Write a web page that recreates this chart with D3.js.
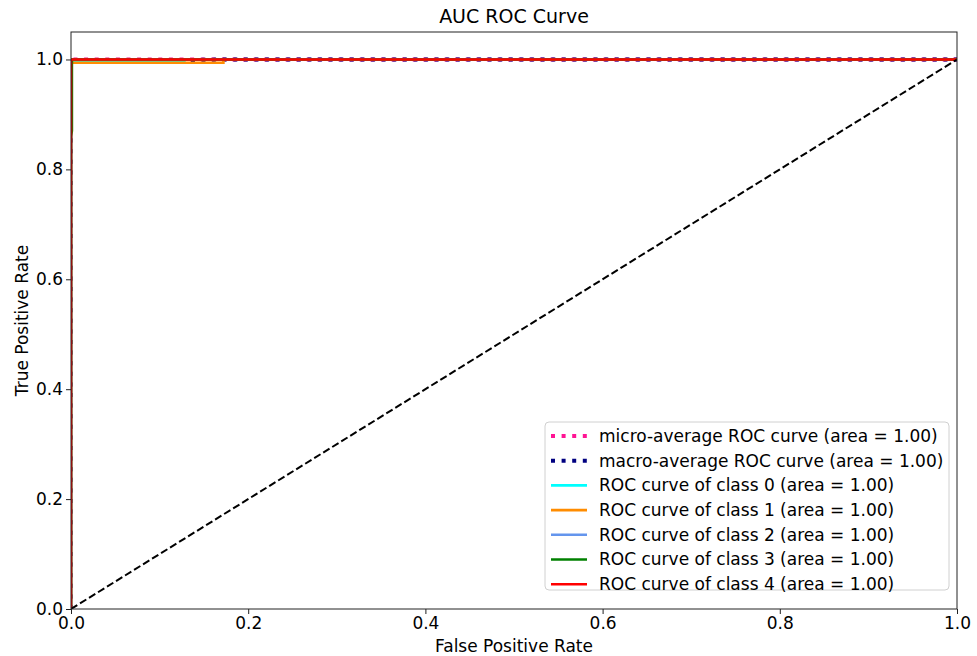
<!DOCTYPE html>
<html>
<head>
<meta charset="utf-8">
<script src="https://cdn.jsdelivr.net/npm/d3@7"></script>
<style>
  body { margin: 0; background: #fff; }
  text { font-family: "DejaVu Sans", sans-serif; fill: #000; }
</style>
</head>
<body>
<div id="chart"></div>
<script>
// tick labels
var xTicks = [0, 0.2, 0.4, 0.6, 0.8, 1.0];
var yTicks = [0, 0.2, 0.4, 0.6, 0.8, 1.0];

// legend names + areas
var curveNames = ["micro-average ROC curve", "macro-average ROC curve",
                  "ROC curve of class 0", "ROC curve of class 1", "ROC curve of class 2",
                  "ROC curve of class 3", "ROC curve of class 4"];
var curveAreas = [1.00, 1.00, 1.00, 1.00, 1.00, 1.00, 1.00];

// fpr / tpr of each curve
var microFpr = [0, 0, 0.001, 1];
var microTpr = [0, 0.99, 1, 1];
var macroFpr = [0, 0, 0.128, 0.172, 1];
var macroTpr = [0, 0.997, 0.999, 1, 1];
var class0Fpr = [0, 0, 0.128, 0.128, 1];
var class0Tpr = [0, 0.996, 0.996, 1, 1];
var class1Fpr = [0, 0, 0.172, 0.172, 1];
var class1Tpr = [0, 0.994, 0.994, 1, 1];
var class2Fpr = [0, 0, 1];
var class2Tpr = [0, 1, 1];
var class3Fpr = [0, 0, 0.001, 0.001, 1];
var class3Tpr = [0, 0.86, 0.87, 1, 1];
var class4Fpr = [0, 0, 1];
var class4Tpr = [0, 1, 1];

// chance line
var chanceFpr = [0, 1];
var chanceTpr = [0, 1];

var fprs = [microFpr, macroFpr, class0Fpr, class1Fpr, class2Fpr, class3Fpr, class4Fpr];
var tprs = [microTpr, macroTpr, class0Tpr, class1Tpr, class2Tpr, class3Tpr, class4Tpr];
var colors = ["#ff1493", "#000080", "#00ffff", "#ff8c00", "#6495ed", "#008000", "#ff0000"];
var dotted = [true, true, false, false, false, false, false];

var curves = curveNames.map(function(n, i) {
  return {name: n, area: curveAreas[i], color: colors[i], dotted: dotted[i],
          points: fprs[i].map(function(f, j) { return [f, tprs[i][j]]; })};
});

var margin = {top: 32, right: 20, bottom: 47, left: 71},
    W = 977, H = 656,
    width = W - margin.left - margin.right,
    height = H - margin.top - margin.bottom;

var x = d3.scaleLinear().domain([0, 1]).range([0, width]);
var y = d3.scaleLinear().domain([0, 1.05]).range([height, 0]);

var svg = d3.select("#chart").append("svg")
    .attr("width", W)
    .attr("height", H)
  .append("g")
    .attr("transform", "translate(" + margin.left + "," + margin.top + ")");

svg.append("clipPath").attr("id", "clip")
  .append("rect").attr("width", width).attr("height", height);

var line = d3.line()
    .x(function(d) { return x(d[0]); })
    .y(function(d) { return y(d[1]); });

var plot = svg.append("g").attr("clip-path", "url(#clip)");

curves.forEach(function(c) {
  plot.append("path")
      .datum(c.points)
      .attr("d", line)
      .attr("fill", "none")
      .attr("stroke", c.color)
      .attr("stroke-width", c.dotted ? 4 : 2.6)
      .attr("stroke-dasharray", c.dotted ? "4,6.6" : null);
});

plot.append("path")
    .datum(chanceFpr.map(function(f, j) { return [f, chanceTpr[j]]; }))
    .attr("d", line)
    .attr("fill", "none")
    .attr("stroke", "#000")
    .attr("stroke-width", 2)
    .attr("stroke-dasharray", "7.4,3.2");

// axes
var xAxis = d3.axisBottom(x).tickValues(xTicks).tickFormat(d3.format(".1f")).tickSize(5).tickPadding(3);
var yAxis = d3.axisLeft(y).tickValues(yTicks).tickFormat(d3.format(".1f")).tickSize(5).tickPadding(3);

var gx = svg.append("g")
    .attr("transform", "translate(0," + height + ")")
    .call(xAxis);
var gy = svg.append("g").call(yAxis);

[gx, gy].forEach(function(g) {
  g.select(".domain").remove();
  g.selectAll("line").attr("stroke", "#222").attr("stroke-width", 1);
  g.selectAll("text").style("font-size", "17px").style("font-family", "DejaVu Sans, sans-serif");
});

// frame
svg.append("rect")
    .attr("width", width)
    .attr("height", height)
    .attr("fill", "none")
    .attr("stroke", "#222")
    .attr("stroke-width", 1);

// title and labels
svg.append("text")
    .attr("x", width / 2)
    .attr("y", -9)
    .attr("text-anchor", "middle")
    .style("font-size", "19px")
    .text("AUC ROC Curve");

svg.append("text")
    .attr("x", width / 2)
    .attr("y", height + 43)
    .attr("text-anchor", "middle")
    .style("font-size", "17px")
    .text("False Positive Rate");

svg.append("text")
    .attr("transform", "translate(" + (-43) + "," + (height / 2) + ") rotate(-90)")
    .attr("text-anchor", "middle")
    .style("font-size", "17px")
    .text("True Positive Rate");

// legend
var legX = 545 - margin.left, legY = 422 - margin.top, legW = 404, legH = 168, rowH = 24.7;

svg.append("rect")
    .attr("x", legX)
    .attr("y", legY)
    .attr("width", legW)
    .attr("height", legH)
    .attr("rx", 4)
    .attr("fill", "#fff")
    .attr("fill-opacity", 0.8)
    .attr("stroke", "#d0d0d0")
    .attr("stroke-width", 1);

var legend = svg.selectAll(".legend")
    .data(curves)
  .enter().append("g")
    .attr("class", "legend")
    .attr("transform", function(d, i) { return "translate(" + legX + "," + (legY + 14 + i * rowH) + ")"; });

legend.append("line")
    .attr("x1", 6)
    .attr("x2", 42)
    .attr("stroke", function(d) { return d.color; })
    .attr("stroke-width", function(d) { return d.dotted ? 4 : 2.6; })
    .attr("stroke-dasharray", function(d) { return d.dotted ? "4,6.6" : null; });

legend.append("text")
    .attr("x", 54)
    .attr("dy", ".35em")
    .style("font-size", "17px")
    .text(function(d) { return d.name + " (area = " + d.area.toFixed(2) + ")"; });
</script>
</body>
</html>
